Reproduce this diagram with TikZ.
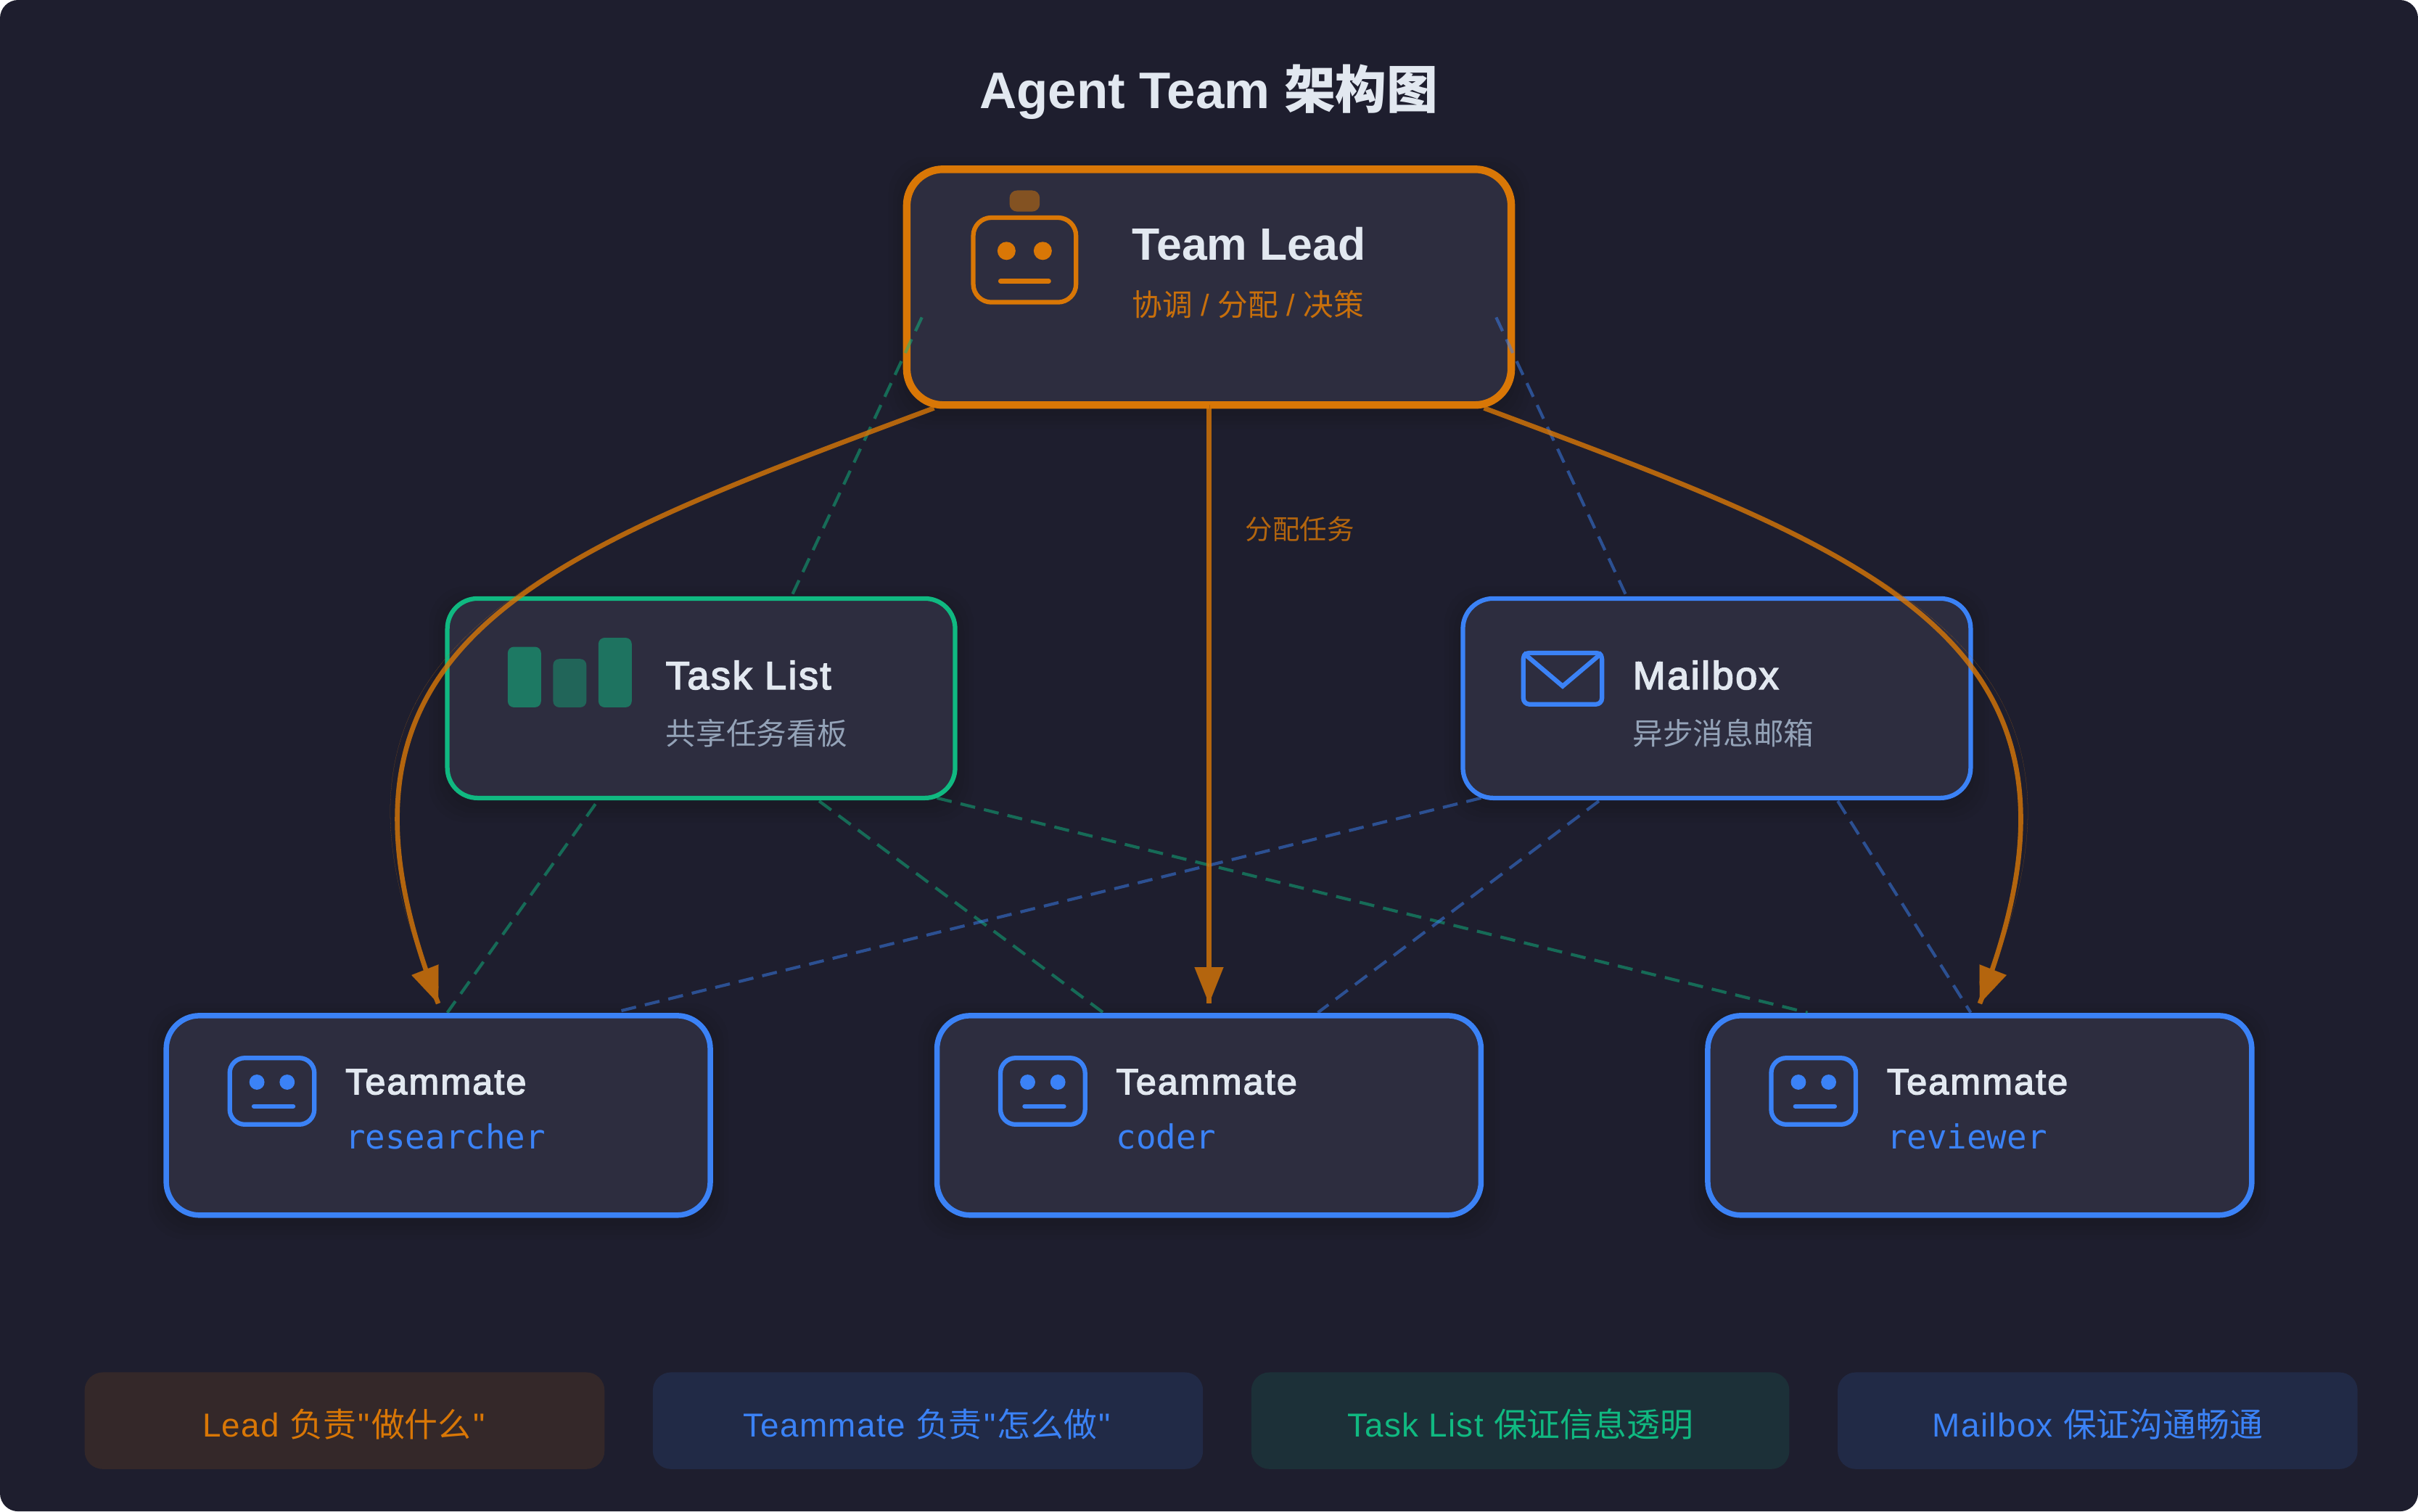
\documentclass[tikz,border=0pt]{standalone}
\usepackage{fontspec}
\setmainfont{Liberation Sans}
\setmonofont{DejaVu Sans Mono}
\newfontfamily\cjk{Noto Sans CJK SC}
\newfontfamily\medium[FakeBold=3,LetterSpace=4.5]{Liberation Sans}
\newfontfamily\notefont[LetterSpace=3]{Liberation Sans}
\usetikzlibrary{arrows.meta}

\definecolor{bgdark}{HTML}{1E1E2E}
\definecolor{boxfill}{HTML}{2D2D3F}
\definecolor{leadcol}{HTML}{D97706}
\definecolor{headcol}{HTML}{B4650E}
\definecolor{matecol}{HTML}{3B82F6}
\definecolor{taskcol}{HTML}{10B981}
\definecolor{titlecol}{HTML}{E2E8F0}
\definecolor{subcol}{HTML}{94A3B8}

\tikzset{
	every picture/.style={line width=1pt},
	box/.style={draw,fill=boxfill,inner sep=0pt,outer sep=0pt,rounded corners=11pt},
	leadbox/.style={box,draw=leadcol,line width=2.5pt,minimum width=200pt,minimum height=78pt,rounded corners=12pt},
	sidebox/.style={box,line width=1.5pt,minimum width=168pt,minimum height=66pt,rounded corners=10pt},
	matebox/.style={box,draw=matecol,line width=1.8pt,minimum width=180pt,minimum height=66pt},
	notebox/.style={inner sep=0pt,outer sep=0pt,minimum width=#1,minimum height=32pt,rounded corners=6pt},
	label/.style={inner sep=0pt,outer sep=0pt,anchor=base west},
	notelabel/.style={label,anchor=base,font=\fontsize{11}{13}\selectfont\notefont},
	assign/.style={draw=leadcol,draw opacity=0.8,line width=1.6pt,
		postaction={draw=headcol,draw opacity=1,line width=0.01pt,-{Triangle[length=12pt,width=9.6pt]}}},
	greendash/.style={draw=taskcol,draw opacity=0.5,line width=1pt,dash pattern=on 5pt off 3pt},
	bluedash/.style={draw=matecol,draw opacity=0.5,line width=1pt,dash pattern=on 5pt off 3pt},
}

% straight quote of the notes
\newcommand{\sq}{\kern0.6pt"\kern0.6pt}

% soft shadow below a box
\newcommand{\softshadow}[4]{%
	\foreach \g in {6,4.5,3,1.5}
		\fill[black,opacity=0.03,rounded corners=12pt] (#1-\g,#2-\g+2) rectangle (#3+\g,#4+\g+2);
}

% face of a teammate, x shift in #1
\newcommand{\mateface}[1]{%
	\begin{scope}[xshift=#1pt]
		\draw[matecol,line width=1.5pt,rounded corners=5pt] (76,350) rectangle (104,372);
		\fill[matecol] (85,358) circle (2.5);
		\fill[matecol] (95,358) circle (2.5);
		\draw[matecol,line width=1.5pt,line cap=round] (84,366) -- (97,366);
	\end{scope}
}

\begin{document}
\begin{tikzpicture}[x=1pt,y=1pt,yscale=-1,xscale=1]
	\useasboundingbox (0,0) rectangle (800,500);
	
	%Background
	\fill[bgdark,rounded corners=6pt] (0,0) rectangle (800,500);
	
	% Title
	\node (title) [label,anchor=base,text=titlecol,font=\fontsize{17}{20}\selectfont\bfseries] at (400,36) {Agent Team {\cjk 架构图}};
	
	%Shadows
	\softshadow{300}{56}{500}{134}
	\softshadow{148}{198}{316}{264}
	\softshadow{484}{198}{652}{264}
	\softshadow{55}{336}{235}{402}
	\softshadow{310}{336}{490}{402}
	\softshadow{565}{336}{745}{402}
	
	%Boxes
	\node (lead) [leadbox] at (400,95) {};
	\node (task) [sidebox,draw=taskcol] at (232,231) {};
	\node (mail) [sidebox,draw=matecol] at (568,231) {};
	\node (researcher) [matebox] at (145,369) {};
	\node (coder) [matebox] at (400,369) {};
	\node (reviewer) [matebox] at (655,369) {};
	
	%Robot of the lead
	\fill[leadcol,fill opacity=0.5,rounded corners=2.5pt] (334,63) rectangle (344,70);
	\draw[leadcol,line width=1.5pt,rounded corners=6pt] (322,72) rectangle (356,100);
	\fill[leadcol] (333,83) circle (3);
	\fill[leadcol] (345,83) circle (3);
	\draw[leadcol,line width=1.5pt,line cap=round] (331,93) -- (347,93);
	
	%Bars of the task list
	\fill[taskcol,fill opacity=0.55,rounded corners=2pt] (168,214) rectangle (179,234);
	\fill[taskcol,fill opacity=0.4,rounded corners=2pt] (183,218) rectangle (194,234);
	\fill[taskcol,fill opacity=0.5,rounded corners=2pt] (198,211) rectangle (209,234);
	
	%Envelope
	\draw[matecol,line width=1.5pt,rounded corners=2pt] (504,216) rectangle (530,233);
	\draw[matecol,line width=1.5pt] (504,216) -- (517,227) -- (530,216);
	
	%Faces
	\mateface{0}
	\mateface{255}
	\mateface{510}
	
	% Text Node
	\node (leadname) [label,text=titlecol,font=\fontsize{15}{18}\selectfont\bfseries] at (374.6,86) {Team Lead};
	\node (leadsub) [label,text=leadcol,opacity=0.9,font=\fontsize{10}{12}\selectfont] at (374.6,104.5) {{\cjk 协调} / {\cjk 分配} / {\cjk 决策}};
	\node (taskname) [label,text=titlecol,font=\fontsize{13}{16}\selectfont\medium] at (220.3,228) {Task List};
	\node (tasksub) [label,text=subcol,font=\fontsize{10}{12}\selectfont\cjk] at (220.3,246.5) {共享任务看板};
	\node (mailname) [label,text=titlecol,font=\fontsize{13}{16}\selectfont\medium] at (540.2,228) {Mailbox};
	\node (mailsub) [label,text=subcol,font=\fontsize{10}{12}\selectfont\cjk] at (540.2,246.5) {异步消息邮箱};
	\foreach \nm/\sub/\xx in {researchername/researcher/114.3,codername/coder/369.3,reviewername/reviewer/624.3}{
		\node (\nm) [label,text=titlecol,font=\fontsize{12}{14}\selectfont\medium] at (\xx,362) {Teammate};
		\node (\nm sub) [label,text=matecol,font=\fontsize{11}{13}\selectfont\ttfamily] at (\xx,380) {\sub};
	}
	
	%Dashed lines of the task list
	\coordinate (leadgreen) at (305,105);
	\coordinate (leadblue) at (495,105);
	\coordinate (taskin) at (262,197);
	\coordinate (mailin) at (538,197);
	\draw[greendash] (leadgreen) -- (taskin);
	\draw[bluedash] (leadblue) -- (mailin);
	\coordinate (taskA) at (197,266);
	\coordinate (taskB) at (271,265);
	\coordinate (taskC) at (310,264);
	\coordinate (mailA) at (490,264);
	\coordinate (mailB) at (529,265);
	\coordinate (mailC) at (608,265);
	\coordinate (inA) at (148,335);
	\coordinate (inB) at (365,335);
	\coordinate (inC) at (598,335);
	\coordinate (inD) at (203,335);
	\coordinate (inE) at (436,335);
	\coordinate (inF) at (652,335);
	\draw[greendash] (taskA) -- (inA);
	\draw[greendash] (taskB) -- (inB);
	\draw[greendash] (taskC) -- (inC);
	\draw[bluedash] (mailA) -- (inD);
	\draw[bluedash] (mailB) -- (inE);
	\draw[bluedash] (mailC) -- (inF);
	
	%Arrows of the lead
	\coordinate (leadL) at (309,135);
	\coordinate (leadR) at (491,135);
	\coordinate (tipL) at (145,332);
	\coordinate (tipC) at (400,332);
	\coordinate (tipR) at (655,332);
	\draw[assign] (leadL) .. controls (178,184) and (98,212) .. (tipL);
	\draw[assign] (lead.south) -- (tipC);
	\draw[assign] (leadR) .. controls (622,184) and (702,212) .. (tipR);
	\node (assignlabel) [label,text=leadcol,opacity=0.8,font=\fontsize{9}{11}\selectfont\cjk] at (412,178.5) {分配任务};
	
	%Notes at the bottom
	\node (noteA) [notebox=172pt,fill=leadcol,fill opacity=0.12] at (114,470) {};
	\node (noteB) [notebox=182pt,fill=matecol,fill opacity=0.12] at (307,470) {};
	\node (noteC) [notebox=178pt,fill=taskcol,fill opacity=0.12] at (503,470) {};
	\node (noteD) [notebox=172pt,fill=matecol,fill opacity=0.12] at (694,470) {};
	\node (textA) [notelabel,text=leadcol] at (114,475.3) {Lead {\cjk 负责}\sq{\cjk 做什么}\sq};
	\node (textB) [notelabel,text=matecol] at (307,475.3) {Teammate {\cjk 负责}\sq{\cjk 怎么做}\sq};
	\node (textC) [notelabel,text=taskcol] at (503,475.3) {Task List {\cjk 保证信息透明}};
	\node (textD) [notelabel,text=matecol] at (694,475.3) {Mailbox {\cjk 保证沟通畅通}};
	
\end{tikzpicture}
\end{document}
